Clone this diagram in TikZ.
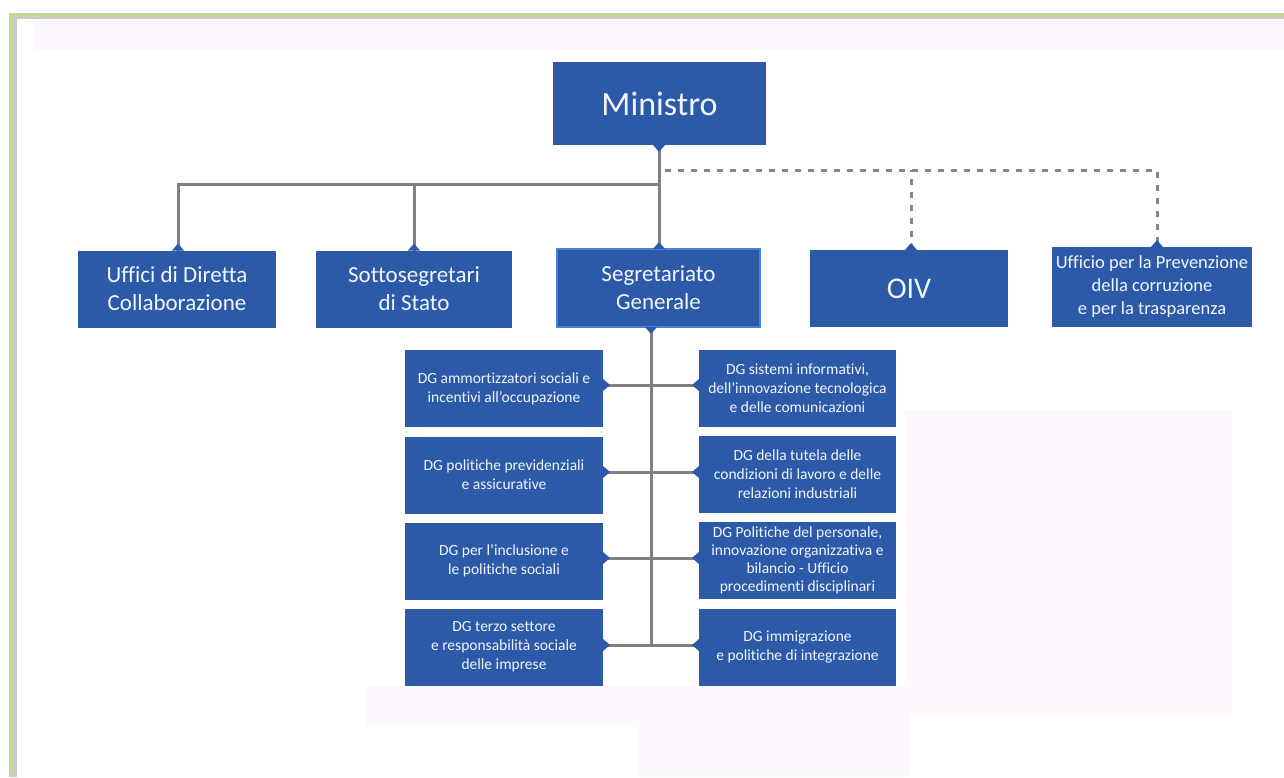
\documentclass[tikz,border=0pt]{standalone}
\usepackage{fontspec}
\setmainfont{Carlito}[Ligatures={TeX,NoCommon}]
\usetikzlibrary{calc}
\definecolor{boxblue}{RGB}{44,90,168}
\definecolor{sgborder}{RGB}{70,130,215}
\definecolor{linegray}{RGB}{128,128,128}
\definecolor{dashgray}{RGB}{135,135,135}
\definecolor{framegreen}{RGB}{195,214,155}
\definecolor{framegray}{RGB}{204,200,212}
\definecolor{bgpink}{RGB}{254,247,254}
\definecolor{textwhite}{RGB}{242,245,252}
\newcommand\notchdown[1]{\fill[boxblue] ($(#1)+(-6,0)$) -- ($(#1)+(0,7)$) -- ($(#1)+(6,0)$) -- cycle;}
\newcommand\notchup[1]{\fill[boxblue] ($(#1)+(-6,0)$) -- ($(#1)+(0,-7)$) -- ($(#1)+(6,0)$) -- cycle;}
\newcommand\notchright[1]{\fill[boxblue] ($(#1)+(0,-6)$) -- ($(#1)+(7,0)$) -- ($(#1)+(0,6)$) -- cycle;}
\newcommand\notchleft[1]{\fill[boxblue] ($(#1)+(0,-6)$) -- ($(#1)+(-7,0)$) -- ($(#1)+(0,6)$) -- cycle;}
\begin{document}
\begin{tikzpicture}[x=1pt,y=-1pt,
  box/.style={fill=boxblue, text=textwhite, inner sep=0pt, outer sep=0pt, align=center},
  bigbox/.style={box, minimum width=198pt, minimum height=77pt, font=\fontsize{23}{28}\selectfont},
  dgbox/.style={box, minimum width=198pt, minimum height=77pt, font=\fontsize{15.5}{19}\selectfont},
  conn/.style={draw=linegray, line width=3pt},
  dconn/.style={draw=dashgray, line width=3pt, dash pattern=on 6pt off 7pt}]
\useasboundingbox (0,0) rectangle (1284,777);
\fill[white] (0,0) rectangle (1284,777);
% background artefacts
\fill[bgpink] (35,19) rectangle (1284,50);
\fill[bgpink] (365,686) rectangle (910,727);
\fill[bgpink] (637,686) rectangle (910,777);
\fill[bgpink] (905,410) rectangle (1232,715);
% frame
\fill[framegreen] (9,13) rectangle (1284,17);
\fill[framegreen] (9,13) rectangle (14,777);
\fill[framegray] (14,17) rectangle (1284,19);
\fill[framegray] (14,17) rectangle (17,777);

% nodes
\node[box, minimum width=213pt, minimum height=83pt, font=\fontsize{34}{40}\selectfont] (min) at (659.5,103.5) {Ministro};
\node[bigbox] (udc) at (177,289) {Uffici di Diretta\\Collaborazione};
\node[bigbox, minimum width=196pt] (sss) at (414,289) {Sottosegretari\\di Stato};
\node[bigbox, minimum width=203pt, minimum height=78pt, draw=sgborder, line width=1.5pt] (sg) at (658.5,288) {Segretariato\\Generale};
\node[bigbox, font=\fontsize{30}{36}\selectfont] (oiv) at (909,288.5) {OIV};
\node[bigbox, minimum width=200pt, minimum height=80pt, font=\fontsize{18.5}{23}\selectfont] (upc) at (1152,287) {Ufficio per la Prevenzione\\della corruzione\\e per la trasparenza};

\node[dgbox] (l1) at (504,388.5) {DG ammortizzatori sociali e\\incentivi all'occupazione};
\node[dgbox] (l2) at (504,475) {DG politiche previdenziali\\e assicurative};
\node[dgbox] (l3) at (504,561) {DG per l'inclusione e\\le politiche sociali};
\node[dgbox] (l4) at (504,647) {DG terzo settore\\e responsabilità sociale\\delle imprese};
\node[dgbox, minimum width=197pt] (r1) at (797.5,388.5) {DG sistemi informativi,\\dell'innovazione tecnologica\\e delle comunicazioni};
\node[dgbox, minimum width=197pt] (r2) at (797.5,474) {DG della tutela delle\\condizioni di lavoro e delle\\relazioni industriali};
\node[dgbox, minimum width=197pt, font=\fontsize{15.5}{18}\selectfont] (r3) at (797.5,560) {DG Politiche del personale,\\innovazione organizzativa e\\bilancio - Ufficio\\procedimenti disciplinari};
\node[dgbox, minimum width=197pt] (r4) at (797.5,647) {DG immigrazione\\e politiche di integrazione};

% junction coordinates
\coordinate (j) at (659,184);
\coordinate (dj) at (665,170);
\coordinate (minB) at (659,145);
\coordinate (udcT) at (178,250.5);
\coordinate (sssT) at (414,250.5);
\coordinate (sgT) at (659,249);
\coordinate (sgB) at (651,327);
\coordinate (oivT) at (911,250);
\coordinate (upcT) at (1157,247);
\coordinate (c1) at (651,385);
\coordinate (c2) at (651,472);
\coordinate (c3) at (651,558);
\coordinate (c4) at (651,645);

% solid connectors
\draw[conn] (minB) -- (sgT);
\draw[conn] (udcT) |- (j);
\draw[conn] (sssT) -- (sssT |- j);
% dashed connectors
\draw[dconn] (dj) -| (upcT);
\draw[dconn] (oivT) -- (oivT |- dj);
% trunk under Segretariato
\draw[conn] (sgB) -- (c4);
\draw[conn] (l1.east |- c1) -- (r1.west |- c1);
\draw[conn] (l2.east |- c2) -- (r2.west |- c2);
\draw[conn] (l3.east |- c3) -- (r3.west |- c3);
\draw[conn] (l4.east |- c4) -- (r4.west |- c4);

% notches
\notchdown{minB}
\notchup{udcT}
\notchup{sssT}
\notchup{sgT}
\notchdown{sgB}
\notchup{oivT}
\notchup{upcT}
\notchright{l1.east |- c1}\notchright{l2.east |- c2}\notchright{l3.east |- c3}\notchright{l4.east |- c4}
\notchleft{r1.west |- c1}\notchleft{r2.west |- c2}\notchleft{r3.west |- c3}\notchleft{r4.west |- c4}
\end{tikzpicture}
\end{document}
